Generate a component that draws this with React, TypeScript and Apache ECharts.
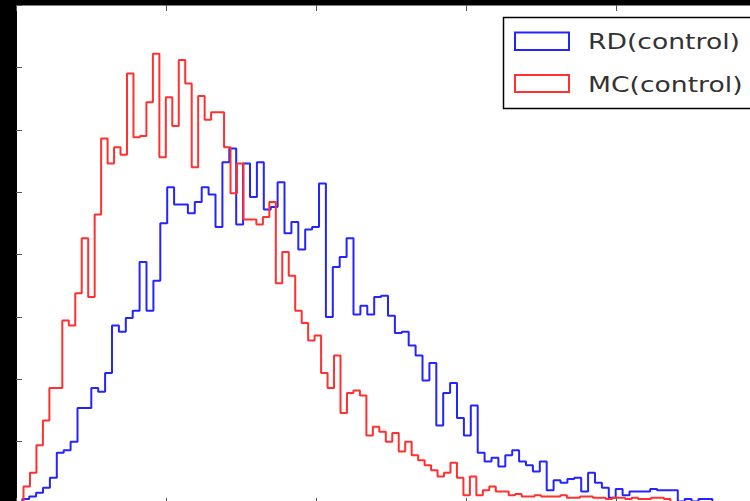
import React, { useEffect, useRef } from "react";
import * as echarts from "echarts";

// Histogram counts (100 bins each)
const rdCounts = [
  4, 6, 9, 13, 21, 41, 43, 50, 77, 77, 93, 90, 105, 143, 138, 149, 155,
  194, 155, 179, 225, 254, 240, 240, 233, 242, 254, 248, 222, 274, 285, 224, 273, 246, 274, 236, 238,
  258, 217, 226, 204, 220, 222, 257, 150, 190, 198, 213, 152, 159, 152, 166, 167,
  151, 137, 138, 127, 119, 99, 113, 63, 89, 97, 69, 55, 79, 41, 34, 37, 30,
  39, 43, 34, 31, 26, 34, 11, 19, 17, 20, 21, 10, 25, 17, 13, 5, 12, 7, 10, 10, 10, 12, 11, 11, 11, 2, 4, 2, 4, 4,
];
const mcCounts = [
  14, 25, 47, 67, 93, 93, 147, 143, 169, 213, 166, 232, 293, 273, 286, 280, 345, 294, 295,
  322, 361, 278, 326, 303, 356, 337, 270, 327, 308, 314, 314, 286, 249, 273, 228, 228, 224, 230, 242,
  177, 202, 183, 155, 145, 131, 135, 105, 93, 119, 73, 89, 91, 87, 55, 62,
  58, 50, 57, 42, 50, 39, 35, 31, 27, 22, 25, 33, 21, 7, 22, 7, 11, 14, 10,
  10, 7, 8, 6, 6, 7, 6, 6, 6, 7, 5, 5, 6, 6, 5, 5, 4, 5, 5, 4, 5, 4, 4, 5, 5, 4,
];
// Bin edges (first edge and width) of each histogram
const rdBinStart = 0.042;
const rdBinWidth = 0.046;
const mcBinStart = 0.05;
const mcBinWidth = 0.04313;

const seriesNames = ["RD(control)", "MC(control)"];
const seriesColors = ["#2424ff", "#ff3030"];

// axis ranges
const xMin = 0;
const xMax = 5;
const xInterval = 1;
const yMin = 0;
const yMax = 400;
const yInterval = 50;

function stepPoints(start: number, width: number, counts: number[]) {
  const pts: number[][] = [[start, 0]];
  counts.forEach((c, i) => pts.push([start + i * width, c]));
  pts.push([start + counts.length * width, 0]);
  return pts;
}

export default function App() {
  const ref = useRef<HTMLDivElement>(null);
  useEffect(() => {
    if (!ref.current) return;
    const chart = echarts.init(ref.current, undefined, { renderer: "svg" });
    const tick = { show: true, inside: true, length: 6, lineStyle: { color: "#555", width: 1 } };
    const xCommon = {
      type: "value" as const,
      min: xMin,
      max: xMax,
      interval: xInterval,
      axisLabel: { show: false },
      splitLine: { show: false },
      axisTick: tick,
    };
    chart.setOption({
      animation: false,
      backgroundColor: "#000",
      grid: {
        left: 16,
        top: 5,
        width: 750,
        height: 499,
        outerBoundsMode: "none",
        containLabel: false,
        show: true,
        backgroundColor: "#fff",
        borderColor: "#000",
        borderWidth: 1,
      },
      xAxis: [
        { ...xCommon, position: "bottom", axisLine: { show: true, lineStyle: { color: "#000" } } },
        { ...xCommon, position: "top", axisLine: { show: false } },
      ],
      yAxis: {
        type: "value",
        min: yMin,
        max: yMax,
        interval: yInterval,
        axisLabel: { show: false },
        splitLine: { show: false },
        axisLine: { show: true, lineStyle: { color: "#000" } },
        axisTick: tick,
      },
      series: [
        {
          name: seriesNames[0],
          type: "line",
          step: "end",
          symbol: "none",
          lineStyle: { color: seriesColors[0], width: 2 },
          itemStyle: { color: seriesColors[0] },
          data: stepPoints(rdBinStart, rdBinWidth, rdCounts),
          z: 2,
        },
        {
          name: seriesNames[1],
          type: "line",
          step: "end",
          symbol: "none",
          lineStyle: { color: seriesColors[1], width: 2 },
          itemStyle: { color: seriesColors[1] },
          data: stepPoints(mcBinStart, mcBinWidth, mcCounts),
          z: 3,
        },
      ],
      graphic: [
        {
          type: "group",
          z: 100,
          children: [
            {
              type: "rect",
              shape: { x: 503.5, y: 17.5, width: 270, height: 91 },
              style: { fill: "#fff", stroke: "#000", lineWidth: 1.5 },
            },
            {
              type: "rect",
              shape: { x: 515, y: 32.5, width: 54, height: 17.5 },
              style: { fill: "none", stroke: seriesColors[0], lineWidth: 2 },
            },
            {
              type: "rect",
              shape: { x: 515, y: 75, width: 54, height: 17 },
              style: { fill: "none", stroke: seriesColors[1], lineWidth: 2 },
            },
            {
              type: "text",
              x: 588,
              y: 41.5,
              scaleX: 1.21,
              style: {
                text: seriesNames[0],
                fill: "#333",
                font: '22px "DejaVu Sans"',
                textVerticalAlign: "middle",
              },
            },
            {
              type: "text",
              x: 588,
              y: 84,
              scaleX: 1.21,
              style: {
                text: seriesNames[1],
                fill: "#333",
                font: '22px "DejaVu Sans"',
                textVerticalAlign: "middle",
              },
            },
          ],
        },
      ],
    });
    return () => chart.dispose();
  }, []);
  return (
    <div
      ref={ref}
      style={{ position: "absolute", left: 0, top: 0, width: 750, height: 501, background: "#000" }}
    />
  );
}
